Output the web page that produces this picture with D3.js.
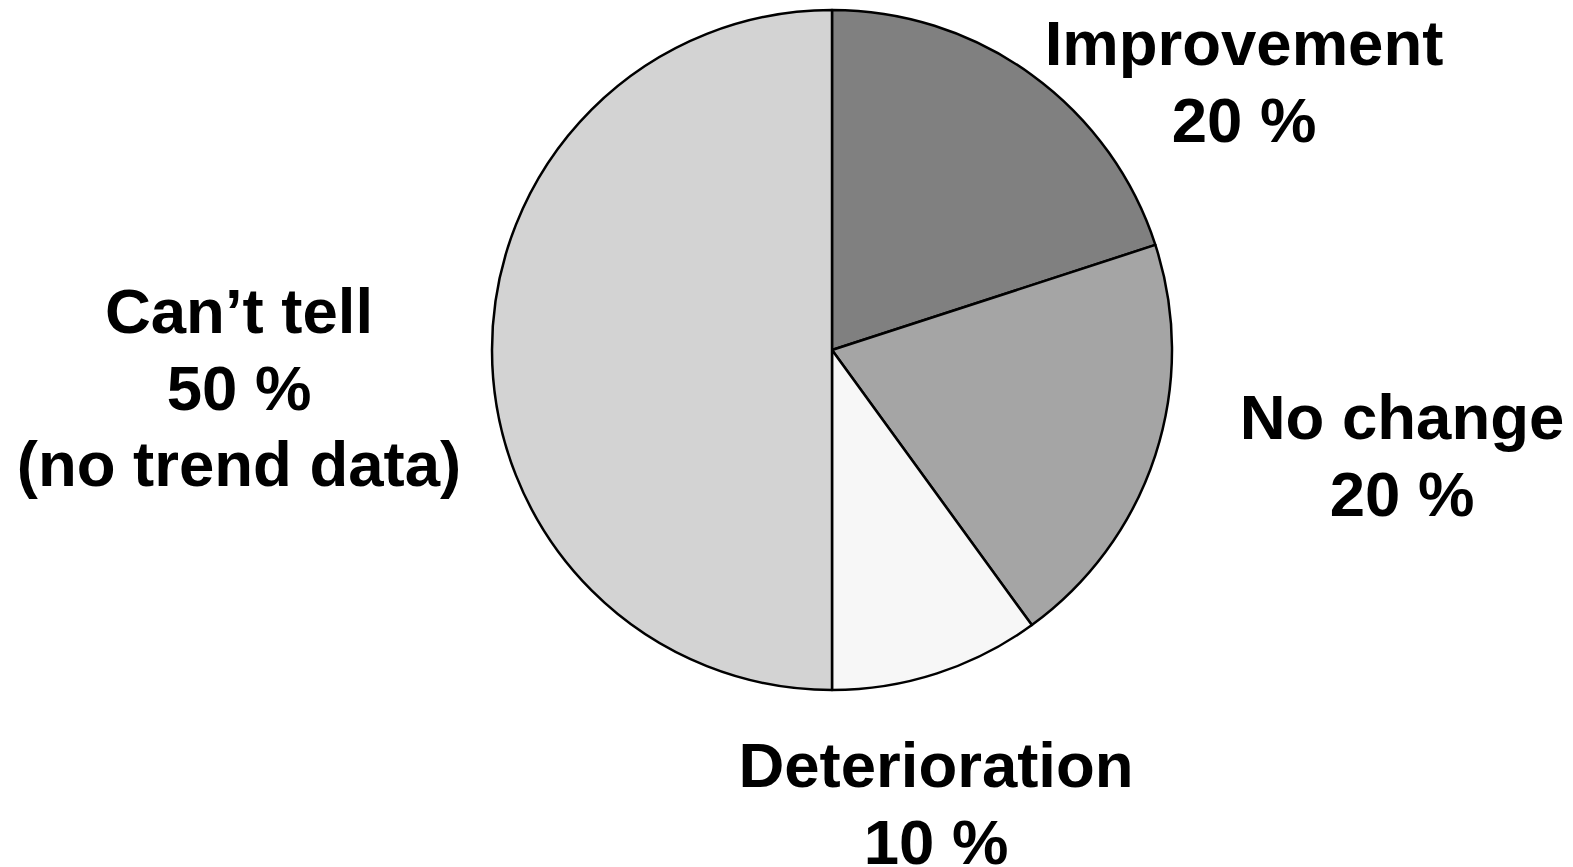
<!DOCTYPE html>
<html>
<head>
<meta charset="utf-8">
<script src="https://cdn.jsdelivr.net/npm/d3@7"></script>
<style>
  html, body { margin: 0; padding: 0; background: #ffffff; }
  svg { display: block; }
  text { font-family: "Liberation Sans", Arial, sans-serif; font-weight: bold; fill: #000; }
</style>
</head>
<body>
<svg id="chart" width="1573" height="867"></svg>
<script>
// Data
const categories = ["Improvement", "No change", "Deterioration", "Can\u2019t tell"];
const values = [20, 20, 10, 50];
const extraLines = ["", "", "", "(no trend data)"];
const colors = ["#808080", "#a5a5a5", "#f7f7f7", "#d3d3d3"];

const W = 1573, H = 867;
const cx = 832, cy = 350, r = 340;

const svg = d3.select("#chart");
const g = svg.append("g").attr("transform", `translate(${cx},${cy})`);

const pie = d3.pie().sort(null).value(d => d.value);
const arc = d3.arc().innerRadius(0).outerRadius(r);

const data = categories.map((c, i) => ({ name: c, value: values[i], color: colors[i], extra: extraLines[i] }));
const arcs = pie(data);

g.selectAll("path.slice")
  .data(arcs)
  .join("path")
  .attr("class", "slice")
  .attr("d", arc)
  .attr("fill", d => d.data.color)
  .attr("stroke", "#000")
  .attr("stroke-width", 2.5)
  .attr("stroke-linejoin", "round");

// Label placement (absolute page positions of label blocks)
const labelPos = [
  { x: 1244, y: 65 },
  { x: 1402, y: 439 },
  { x: 936, y: 787 },
  { x: 239, y: 333 }
];
const lineH = 76.5;
const fontSize = 63.5;

const labels = svg.selectAll("text.lbl")
  .data(arcs)
  .join("text")
  .attr("class", "lbl")
  .attr("text-anchor", "middle")
  .attr("font-size", fontSize)
  .attr("x", (d, i) => labelPos[i].x)
  .attr("y", (d, i) => labelPos[i].y);

labels.each(function(d, i) {
  const t = d3.select(this);
  const lines = [d.data.name, d.data.value + " %"];
  if (d.data.extra) lines.push(d.data.extra);
  lines.forEach((ln, k) => {
    t.append("tspan")
      .attr("x", labelPos[i].x)
      .attr("dy", k === 0 ? 0 : lineH)
      .text(ln);
  });
});
</script>
</body>
</html>
